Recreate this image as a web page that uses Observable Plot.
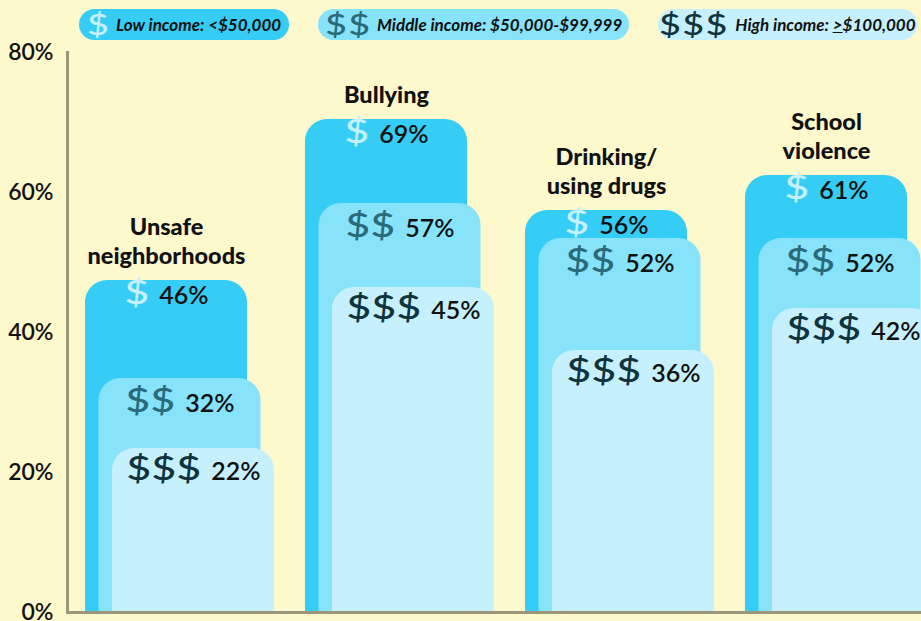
<!DOCTYPE html>
<html><head><meta charset="utf-8">
<script src="https://cdn.jsdelivr.net/npm/d3@7"></script>
<script src="https://cdn.jsdelivr.net/npm/@observablehq/plot@0.6"></script>
<style>
html,body{margin:0;padding:0;background:#fef8cd;overflow:hidden;width:921px;height:621px;}
#legend{position:relative;height:40px;font-family:Lato,sans-serif;}
.pill{position:absolute;top:9px;height:31px;border-radius:16px;display:flex;align-items:center;justify-content:center;box-sizing:border-box;font-style:italic;font-weight:700;font-size:17px;color:#111;white-space:nowrap;}
.pill .sym{display:inline-block;font-style:normal;font-weight:500;font-size:28px;letter-spacing:1px;line-height:31px;transform:scaleX(1.35);transform-origin:left center;}
#chart svg{display:block;}
</style></head><body>
<div id="legend"></div>
<div id="chart"></div>
<script>
// ---- data ----
const categories = ["Unsafe neighborhoods", "Bullying", "Drinking/using drugs", "School violence"];
const categoryTitles = ["Unsafe\nneighborhoods", "Bullying", "Drinking/\nusing drugs", "School\nviolence"];
const seriesNames = ["Low income", "Middle income", "High income"];
const seriesRanges = ["<$50,000", "$50,000-$99,999", "≥$100,000"];
const seriesSymbols = ["$", "$$", "$$$"];
const lowIncome = [46, 69, 56, 61];
const middleIncome = [32, 57, 52, 52];
const highIncome = [22, 45, 36, 42];
const yTicks = [0, 20, 40, 60, 80];

// ---- styles ----
const barColors = ["#35cdf5", "#87e3fa", "#c6f0fd"];
const symColors = ["#c6f0fd", "#2b6a7a", "#10333d"];
const pillLefts = [79, 318, 658];
const pillWidths = [210, 311, 259];
const labelOffsets = [5, 15, 13];
const seriesShift = 13.5;

const seriesValues = [lowIncome, middleIncome, highIncome];
const rows = categories.flatMap((c, i) => seriesNames.map((s, j) => ({
  category: c, title: categoryTitles[i], series: s, j, symbol: seriesSymbols[j], value: seriesValues[j][i]
})));

// ---- legend ----
const legend = document.getElementById("legend");
const symSpans = [];
seriesNames.forEach((s, j) => {
  const p = document.createElement("div");
  p.className = "pill";
  p.style.left = pillLefts[j] + "px";
  p.style.width = pillWidths[j] + "px";
  p.style.background = barColors[j];
  const sym = document.createElement("span");
  sym.className = "sym";
  sym.style.color = symColors[j];
  sym.textContent = seriesSymbols[j];
  p.appendChild(sym);
  symSpans.push(sym);
  const txt = document.createElement("span");
  const range = seriesRanges[j];
  if (range.startsWith("≥")) {
    txt.innerHTML = s + ": <span style=\"text-decoration:underline\">&gt;</span>" + range.slice(1);
  } else {
    txt.textContent = s + ": " + range;
  }
  p.appendChild(txt);
  legend.appendChild(p);
});
symSpans.forEach(sp => { sp.style.marginRight = (sp.offsetWidth * 0.35 + 6) + "px"; });

// ---- chart ----
const marks = [];
seriesNames.forEach((s, j) => {
  const d = rows.filter(r => r.j === j);
  marks.push(Plot.barY(d, {x: "category", y: "value", fill: barColors[j], rx: 22, insetTop: -10, insetBottom: -40, dx: j * seriesShift, clip: true}));
});
seriesNames.forEach((s, j) => {
  const d = rows.filter(r => r.j === j);
  marks.push(Plot.text(d, {x: "category", y: "value", dx: j * seriesShift, dy: labelOffsets[j], lineAnchor: "middle",
    text: r => `${r.symbol} ${r.value}%`, fontSize: 25, fontWeight: 600, fill: "#111", ariaDescription: "vl" + j}));
});
marks.push(Plot.text(rows.filter(r => r.j === 0), {x: "category", y: "value", text: "title", dy: -27, lineAnchor: "bottom",
  lineHeight: 1.2, fontSize: 23.5, fontWeight: 900, fill: "#111"}));
marks.push(Plot.ruleY([0], {stroke: "#9c977a", strokeWidth: 3}));
marks.push(Plot.frame({anchor: "left", stroke: "#9c977a", strokeWidth: 3}));
marks.push(Plot.axisY(yTicks, {tickSize: 0, tickPadding: 14, tickFormat: d => d + "%", fontSize: 23, fontWeight: 600, fill: "#111", label: null}));

const svg = Plot.plot({
  width: 921, height: 581,
  marginLeft: 67, marginRight: 0, marginTop: 12, marginBottom: 9,
  style: {background: "transparent", fontFamily: "Lato, sans-serif", fontSize: "20px", color: "#111", overflow: "visible"},
  x: {domain: categories, range: [85, 907], paddingInner: 58 / 220, paddingOuter: 0, axis: null},
  y: {domain: [0, 80], axis: null},
  marks
});

seriesNames.forEach((s, j) => {
  d3.select(svg).selectAll(`g[aria-description="vl${j}"] text`).each(function () {
    const t = this.textContent;
    const k = t.indexOf(" ");
    const sym = t.slice(0, k), pct = t.slice(k + 1);
    const sel = d3.select(this);
    sel.text(null);
    sel.append("tspan").attr("fill", symColors[j]).attr("font-size", 32).attr("font-weight", 500)
      .attr("textLength", sym.length * 25).attr("lengthAdjust", "spacingAndGlyphs").text(sym);
    sel.append("tspan").attr("dx", 10).text(pct);
  });
});

document.getElementById("chart").appendChild(svg);
</script>
</body></html>
